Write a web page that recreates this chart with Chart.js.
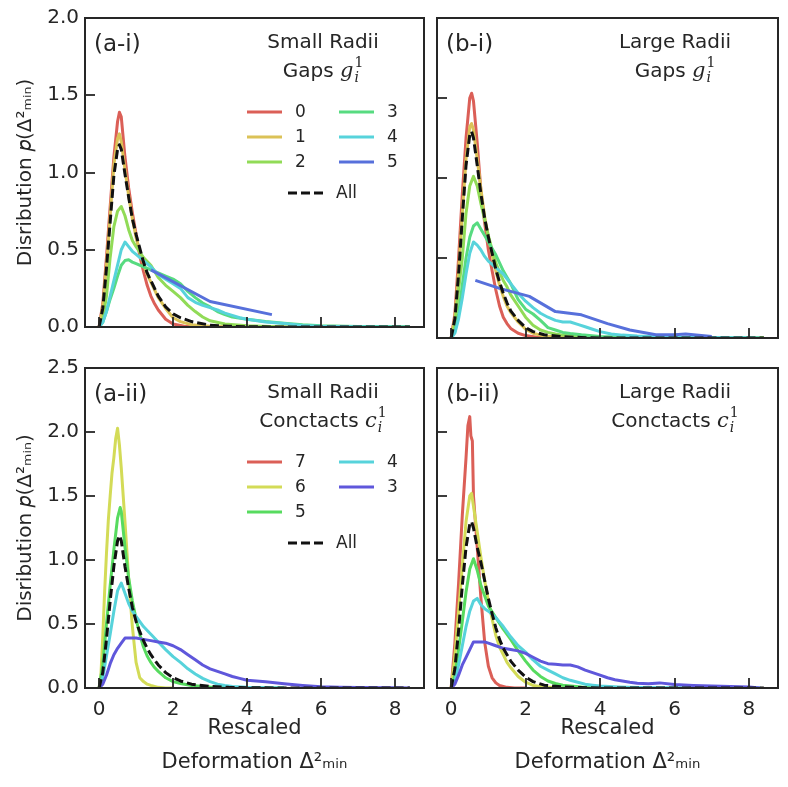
<!DOCTYPE html>
<html>
<head>
<meta charset="utf-8">
<script src="https://cdn.jsdelivr.net/npm/chart.js@4.4.1/dist/chart.umd.min.js"></script>
<style>
  html, body { margin: 0; padding: 0; background: #fff; }
  .wrap { position: relative; width: 788px; height: 787px; }
  canvas { position: absolute; }
</style>
</head>
<body>
<div class="wrap">
  <canvas id="ai" width="430" height="345" style="left:0;top:0"></canvas>
  <canvas id="bi" width="358" height="345" style="left:430px;top:0"></canvas>
  <canvas id="aii" width="430" height="442" style="left:0;top:345px"></canvas>
  <canvas id="bii" width="358" height="442" style="left:430px;top:345px"></canvas>
</div>
<script>
// ---- data (x = rescaled deformation, y = distribution) ----
const xTicks = [0, 2, 4, 6, 8];
const yTicksTop = [0, 0.5, 1, 1.5, 2];
const yTicksBottom = [0, 0.5, 1, 1.5, 2, 2.5];

const gapLabels = ['0', '1', '2', '3', '4', '5'];
const contactLabels = ['7', '6', '5', '4', '3'];

// small radii, gaps
const smallGaps0 = [[0,0],[0.1,0.15],[0.2,0.45],[0.3,0.78],[0.4,1.1],[0.5,1.33],[0.55,1.39],[0.6,1.36],[0.7,1.1],[0.8,0.9],[0.9,0.74],[1.0,0.6],[1.1,0.46],[1.2,0.36],[1.3,0.27],[1.4,0.2],[1.5,0.15],[1.6,0.11],[1.8,0.05],[2.0,0.02],[2.3,0.005],[2.6,0],[8.4,0]];
const smallGaps1 = [[0,0],[0.1,0.13],[0.2,0.4],[0.3,0.72],[0.4,1.05],[0.5,1.22],[0.55,1.25],[0.6,1.2],[0.7,1.02],[0.8,0.85],[0.9,0.7],[1.0,0.58],[1.1,0.49],[1.2,0.41],[1.3,0.34],[1.4,0.29],[1.5,0.24],[1.6,0.19],[1.8,0.12],[2.0,0.06],[2.2,0.035],[2.5,0.015],[3.0,0.005],[3.5,0],[8.4,0]];
const smallGaps2 = [[0,0],[0.1,0.05],[0.2,0.2],[0.3,0.45],[0.4,0.65],[0.5,0.75],[0.6,0.78],[0.7,0.72],[0.8,0.63],[0.9,0.56],[1.0,0.52],[1.2,0.45],[1.4,0.4],[1.6,0.32],[1.8,0.27],[2.0,0.23],[2.2,0.19],[2.4,0.14],[2.6,0.1],[2.8,0.065],[3.0,0.04],[3.4,0.02],[4.0,0.008],[5.0,0],[8.4,0]];
const smallGaps3 = [[0,0],[0.1,0.03],[0.2,0.1],[0.3,0.18],[0.4,0.25],[0.5,0.33],[0.6,0.4],[0.7,0.43],[0.8,0.435],[0.9,0.42],[1.0,0.41],[1.2,0.39],[1.4,0.37],[1.6,0.35],[1.8,0.33],[2.0,0.31],[2.2,0.28],[2.4,0.23],[2.6,0.19],[2.8,0.155],[3.0,0.13],[3.2,0.1],[3.4,0.08],[3.6,0.065],[4.0,0.05],[4.5,0.035],[5.0,0.025],[5.5,0.015],[6.0,0.008],[7.0,0.003],[8.0,0.001],[8.4,0]];
const smallGaps4 = [[0,0],[0.1,0.03],[0.2,0.1],[0.3,0.2],[0.4,0.3],[0.5,0.4],[0.6,0.5],[0.7,0.55],[0.8,0.52],[0.9,0.49],[1.0,0.47],[1.2,0.43],[1.4,0.39],[1.6,0.34],[1.8,0.31],[2.0,0.28],[2.2,0.25],[2.4,0.19],[2.6,0.16],[2.8,0.14],[3.0,0.125],[3.2,0.11],[3.4,0.09],[3.6,0.075],[3.8,0.06],[4.0,0.05],[4.5,0.033],[5.0,0.022],[5.5,0.01],[6.0,0.005],[7.0,0.002],[8.4,0]];
const smallGaps5 = [[1.4,0.37],[3.0,0.165],[4.67,0.08]];
const smallGapsAll = [[0,0],[0.1,0.12],[0.2,0.38],[0.3,0.68],[0.4,0.98],[0.5,1.15],[0.55,1.18],[0.6,1.15],[0.7,0.99],[0.8,0.84],[0.9,0.7],[1.0,0.6],[1.1,0.51],[1.2,0.42],[1.3,0.35],[1.4,0.3],[1.5,0.25],[1.6,0.2],[1.8,0.13],[2.0,0.085],[2.2,0.06],[2.5,0.035],[3.0,0.012],[3.5,0.005],[4.0,0.002],[5.0,0],[8.4,0]];

// large radii, gaps
const largeGaps0 = [[0,0],[0.1,0.15],[0.2,0.5],[0.3,0.9],[0.4,1.25],[0.5,1.5],[0.55,1.53],[0.6,1.48],[0.7,1.22],[0.8,0.92],[0.9,0.72],[1.0,0.55],[1.1,0.42],[1.2,0.3],[1.3,0.2],[1.4,0.13],[1.5,0.09],[1.6,0.06],[1.8,0.03],[2.0,0.015],[2.3,0.005],[2.6,0],[8.4,0]];
const largeGaps1 = [[0,0],[0.1,0.13],[0.2,0.42],[0.3,0.78],[0.4,1.12],[0.5,1.32],[0.55,1.34],[0.6,1.3],[0.7,1.12],[0.8,0.93],[0.9,0.76],[1.0,0.63],[1.1,0.52],[1.2,0.42],[1.3,0.33],[1.4,0.26],[1.5,0.2],[1.6,0.16],[1.8,0.1],[2.0,0.055],[2.2,0.03],[2.5,0.012],[3.0,0.004],[3.5,0],[8.4,0]];
const largeGaps2 = [[0,0],[0.1,0.08],[0.2,0.3],[0.3,0.5],[0.4,0.78],[0.5,0.95],[0.6,1.01],[0.7,0.95],[0.8,0.84],[0.9,0.74],[1.0,0.64],[1.1,0.55],[1.2,0.47],[1.3,0.41],[1.4,0.36],[1.5,0.32],[1.6,0.27],[1.8,0.2],[2.0,0.13],[2.2,0.08],[2.4,0.05],[2.6,0.035],[2.8,0.025],[3.0,0.018],[3.5,0.008],[4.0,0.003],[5.0,0],[8.4,0]];
const largeGaps3 = [[0,0],[0.1,0.04],[0.2,0.15],[0.3,0.33],[0.4,0.5],[0.5,0.63],[0.6,0.7],[0.7,0.72],[0.8,0.68],[0.9,0.64],[1.0,0.6],[1.1,0.56],[1.2,0.52],[1.3,0.47],[1.4,0.42],[1.5,0.38],[1.6,0.34],[1.8,0.24],[2.0,0.18],[2.2,0.15],[2.4,0.11],[2.6,0.065],[2.8,0.05],[3.0,0.035],[3.2,0.028],[3.5,0.02],[4.0,0.01],[5.0,0.004],[6.0,0],[8.4,0]];
const largeGaps4 = [[0,0],[0.1,0.03],[0.2,0.12],[0.3,0.25],[0.4,0.4],[0.5,0.53],[0.6,0.6],[0.7,0.58],[0.8,0.55],[0.9,0.51],[1.0,0.48],[1.2,0.44],[1.4,0.4],[1.6,0.34],[1.8,0.28],[2.0,0.23],[2.2,0.19],[2.4,0.155],[2.6,0.13],[2.8,0.11],[3.0,0.1],[3.2,0.1],[3.4,0.085],[3.6,0.07],[3.8,0.055],[4.0,0.04],[4.3,0.025],[4.6,0.018],[5.0,0.012],[5.5,0.008],[6.0,0.005],[7.0,0.003],[8.0,0.002],[8.3,0]];
const largeGaps5 = [[0.65,0.36],[1.3,0.31],[2.1,0.26],[2.8,0.165],[3.5,0.145],[4.2,0.09],[4.8,0.05],[5.5,0.02],[6.0,0.02],[6.3,0.025],[7.0,0.01]];
const largeGapsAll = [[0,0],[0.1,0.12],[0.2,0.4],[0.3,0.75],[0.4,1.08],[0.5,1.27],[0.55,1.29],[0.6,1.25],[0.7,1.08],[0.8,0.9],[0.9,0.75],[1.0,0.63],[1.1,0.53],[1.2,0.43],[1.3,0.35],[1.4,0.28],[1.5,0.22],[1.6,0.17],[1.8,0.11],[2.0,0.065],[2.2,0.04],[2.5,0.02],[3.0,0.008],[3.5,0.003],[4.0,0],[8.4,0]];

// small radii, contacts
const smallContacts7 = [];
const smallContacts6 = [[0,0],[0.05,0.1],[0.1,0.4],[0.15,0.75],[0.2,1.05],[0.25,1.31],[0.3,1.5],[0.35,1.68],[0.4,1.8],[0.45,1.95],[0.5,2.03],[0.55,1.9],[0.6,1.72],[0.7,1.3],[0.8,0.85],[0.9,0.48],[1.0,0.2],[1.1,0.08],[1.2,0.05],[1.3,0.03],[1.4,0.02],[1.6,0.005],[1.8,0],[2.0,0]];
const smallContacts5 = [[0,0],[0.1,0.18],[0.2,0.5],[0.3,0.8],[0.4,1.08],[0.5,1.33],[0.57,1.41],[0.6,1.38],[0.7,1.1],[0.8,0.86],[0.9,0.68],[1.0,0.54],[1.1,0.42],[1.2,0.32],[1.3,0.25],[1.4,0.2],[1.5,0.16],[1.6,0.13],[1.8,0.08],[2.0,0.05],[2.2,0.035],[2.5,0.02],[3.0,0.008],[3.5,0.003],[4.0,0],[5.0,0]];
const smallContacts4 = [[0,0],[0.1,0.08],[0.2,0.25],[0.3,0.42],[0.4,0.6],[0.5,0.76],[0.6,0.82],[0.7,0.74],[0.8,0.66],[0.9,0.6],[1.0,0.56],[1.2,0.48],[1.4,0.42],[1.6,0.36],[1.8,0.3],[2.0,0.245],[2.2,0.2],[2.4,0.15],[2.6,0.11],[2.8,0.075],[3.0,0.05],[3.2,0.03],[3.4,0.02],[3.6,0.012],[4.0,0.005],[5.0,0]];
const smallContacts3 = [[0,0],[0.1,0.03],[0.2,0.1],[0.3,0.19],[0.4,0.26],[0.5,0.31],[0.6,0.35],[0.7,0.39],[0.8,0.39],[1.0,0.39],[1.2,0.38],[1.4,0.37],[1.6,0.36],[1.8,0.35],[2.0,0.33],[2.2,0.3],[2.4,0.26],[2.6,0.22],[2.8,0.18],[3.0,0.15],[3.2,0.13],[3.4,0.11],[3.6,0.09],[3.8,0.075],[4.0,0.06],[4.5,0.048],[5.0,0.033],[5.5,0.02],[6.0,0.01],[6.5,0.006],[7.0,0.004],[8.0,0.001],[8.4,0]];
const smallContactsAll = [[0,0],[0.1,0.12],[0.2,0.38],[0.3,0.68],[0.4,0.95],[0.5,1.15],[0.55,1.19],[0.6,1.15],[0.7,0.95],[0.8,0.78],[0.9,0.63],[1.0,0.52],[1.1,0.44],[1.2,0.37],[1.3,0.31],[1.4,0.26],[1.5,0.22],[1.6,0.18],[1.8,0.12],[2.0,0.08],[2.2,0.055],[2.5,0.03],[3.0,0.012],[3.5,0.005],[4.0,0.002],[5.0,0],[8.4,0]];

// large radii, contacts
const largeContacts7 = [[0,0],[0.1,0.35],[0.2,0.82],[0.3,1.35],[0.4,1.8],[0.45,2.05],[0.5,2.12],[0.53,1.97],[0.57,1.93],[0.6,1.5],[0.7,1.1],[0.8,0.7],[0.9,0.36],[1.0,0.17],[1.1,0.08],[1.2,0.04],[1.3,0.02],[1.5,0.005],[1.7,0],[2.0,0]];
const largeContacts6 = [[0,0],[0.1,0.25],[0.2,0.6],[0.3,0.95],[0.4,1.3],[0.5,1.5],[0.55,1.52],[0.6,1.42],[0.7,1.22],[0.8,1.02],[0.9,0.84],[1.0,0.68],[1.1,0.54],[1.2,0.41],[1.3,0.32],[1.4,0.26],[1.5,0.2],[1.6,0.16],[1.8,0.09],[2.0,0.045],[2.2,0.02],[2.5,0.008],[3.0,0]];
const largeContacts5 = [[0,0],[0.1,0.1],[0.2,0.3],[0.3,0.52],[0.4,0.75],[0.5,0.93],[0.6,1.01],[0.7,0.92],[0.8,0.8],[0.9,0.72],[1.0,0.64],[1.2,0.55],[1.4,0.46],[1.6,0.38],[1.8,0.29],[2.0,0.21],[2.2,0.14],[2.4,0.09],[2.6,0.055],[2.8,0.035],[3.0,0.022],[3.5,0.008],[4.0,0.003],[5.0,0]];
const largeContacts4 = [[0,0],[0.1,0.05],[0.2,0.18],[0.3,0.33],[0.4,0.48],[0.5,0.6],[0.6,0.68],[0.7,0.7],[0.8,0.65],[0.9,0.62],[1.0,0.6],[1.2,0.55],[1.4,0.48],[1.6,0.4],[1.8,0.33],[2.0,0.28],[2.2,0.22],[2.4,0.17],[2.6,0.14],[2.8,0.11],[3.0,0.08],[3.2,0.06],[3.4,0.045],[3.6,0.03],[3.8,0.022],[4.0,0.015],[4.5,0.008],[5.0,0.004],[6.0,0.002],[7.0,0.001],[8.3,0]];
const largeContacts3 = [[0,0],[0.1,0.03],[0.2,0.1],[0.3,0.18],[0.4,0.24],[0.5,0.3],[0.6,0.36],[0.7,0.36],[0.8,0.36],[0.9,0.36],[1.0,0.35],[1.2,0.33],[1.4,0.31],[1.6,0.3],[1.8,0.29],[2.0,0.27],[2.2,0.24],[2.4,0.21],[2.6,0.19],[2.8,0.185],[3.0,0.18],[3.2,0.18],[3.4,0.165],[3.6,0.14],[3.8,0.12],[4.0,0.1],[4.2,0.08],[4.4,0.065],[4.6,0.055],[4.8,0.045],[5.0,0.038],[5.3,0.033],[5.6,0.04],[6.0,0.028],[6.5,0.02],[7.0,0.015],[7.5,0.012],[8.0,0.008],[8.3,0]];
const largeContactsAll = [[0,0],[0.1,0.15],[0.2,0.45],[0.3,0.8],[0.4,1.1],[0.5,1.28],[0.55,1.3],[0.6,1.25],[0.7,1.1],[0.8,0.98],[0.9,0.84],[1.0,0.7],[1.1,0.58],[1.2,0.47],[1.3,0.38],[1.4,0.31],[1.5,0.26],[1.6,0.21],[1.8,0.14],[2.0,0.085],[2.2,0.05],[2.5,0.022],[3.0,0.008],[3.5,0.003],[4.0,0],[8.4,0]];

// ---- styling ----
const INK = '#262626';
const gapColors = ['#db5f57', '#dbc257', '#91db57', '#57db80', '#57d3db', '#5770db'];
const contactColors = ['#db5f57', '#d3db57', '#57db5f', '#57d3db', '#5f57db'];
const FONT = '"DejaVu Sans", sans-serif';
Chart.defaults.font.family = FONT;
Chart.defaults.color = INK;

function drawSymLine(ctx, cx, cy, prefix, sym) {
  ctx.textAlign = 'left';
  ctx.textBaseline = 'alphabetic';
  const base = '20px ' + FONT;
  const it = 'italic 21px "DejaVu Serif", serif';
  const small = '14px "DejaVu Serif", serif';
  const smallIt = 'italic 14px "DejaVu Serif", serif';
  ctx.font = base; const w1 = ctx.measureText(prefix).width;
  ctx.font = it; const w2 = ctx.measureText(sym).width;
  ctx.font = small; const w3 = ctx.measureText('1').width;
  let x = cx - (w1 + w2 + w3 + 1) / 2;
  const yb = cy + 7;
  ctx.font = base; ctx.fillText(prefix, x, yb); x += w1;
  ctx.font = it; ctx.fillText(sym, x, yb); x += w2 + 1;
  ctx.font = small; ctx.fillText('1', x, yb - 10);
  ctx.font = smallIt; ctx.fillText('i', x, yb + 5);
}

// frame, inward ticks, panel text and legend
const decor = {
  id: 'decor',
  afterDraw(chart, args, o) {
    const {ctx, chartArea: a, scales} = chart;
    ctx.save();
    ctx.strokeStyle = INK;
    ctx.lineWidth = 1.8;
    scales.y.ticks.forEach(t => {
      const p = Math.round(scales.y.getPixelForValue(t.value));
      ctx.beginPath(); ctx.moveTo(a.left, p); ctx.lineTo(a.left + 10, p); ctx.stroke();
    });
    scales.x.ticks.forEach(t => {
      const p = Math.round(scales.x.getPixelForValue(t.value));
      ctx.beginPath(); ctx.moveTo(p, a.bottom); ctx.lineTo(p, a.bottom - 10); ctx.stroke();
    });
    ctx.lineWidth = 2;
    ctx.strokeRect(a.left, a.top, a.right - a.left, a.bottom - a.top);

    ctx.fillStyle = INK;
    ctx.textBaseline = 'middle';
    ctx.textAlign = 'left';
    ctx.font = '23px ' + FONT;
    ctx.fillText(o.tag, a.left + 9, a.top + 27);
    ctx.textAlign = 'center';
    ctx.font = '20px ' + FONT;
    ctx.fillText(o.line1, a.left + 238, a.top + 25);
    drawSymLine(ctx, a.left + 238, a.top + 52, o.line2, o.sym);

    if (o.legend) {
      const sets = chart.data.datasets.filter(d => d.label !== 'All');
      const all = chart.data.datasets.find(d => d.label === 'All');
      const half = Math.ceil(sets.length / 2);
      ctx.font = '17px ' + FONT;
      ctx.textAlign = 'left';
      ctx.textBaseline = 'middle';
      const entry = (d, x0, y) => {
        ctx.strokeStyle = d.borderColor;
        ctx.lineWidth = 3;
        ctx.setLineDash(d.borderDash || []);
        ctx.beginPath(); ctx.moveTo(x0, y); ctx.lineTo(x0 + 35, y); ctx.stroke();
        ctx.setLineDash([]);
        ctx.fillText(d.label, x0 + 48, y + 1);
      };
      sets.forEach((d, i) => {
        const col = i < half ? 0 : 1;
        const row = col ? i - half : i;
        entry(d, a.left + (col ? 254 : 162), a.top + 94 + row * 25);
      });
      if (all) entry(all, a.left + 203, a.top + 175);
    }
    ctx.restore();
  }
};

function series(label, pts, color, order) {
  return {
    label, order,
    data: pts.map(p => ({x: p[0], y: p[1]})),
    borderColor: color, borderWidth: 3,
    pointRadius: 0, tension: 0, fill: false,
    borderJoinStyle: 'round'
  };
}

function allSeries(pts) {
  const d = series('All', pts, '#111111', 0);
  d.borderDash = [9, 4];
  d.borderWidth = 3;
  return d;
}

function panel(id, opt) {
  const n = opt.sets.length;
  const datasets = opt.sets.map((pts, i) => series(opt.labels[i], pts, opt.colors[i], n - i));
  datasets.push(allSeries(opt.all));
  new Chart(document.getElementById(id), {
    type: 'line',
    data: {datasets},
    options: {
      responsive: false,
      animation: false,
      events: [],
      layout: {padding: {top: opt.padTop, right: opt.padRight, left: 0, bottom: 0}},
      plugins: {
        legend: {display: false},
        tooltip: {enabled: false},
        decor: {tag: opt.tag, line1: opt.line1, line2: opt.line2, sym: opt.sym, legend: opt.legend}
      },
      scales: {
        x: {
          type: 'linear', min: -0.38, max: 8.78,
          afterBuildTicks: s => { s.ticks = xTicks.map(v => ({value: v})); },
          afterFit: s => { s.height = opt.xHeight; },
          grid: {display: false, drawTicks: false},
          border: {display: false},
          ticks: {display: opt.xLabels, padding: 10, color: INK, font: {size: 20}, callback: v => String(v)},
          title: {
            display: opt.xLabels,
            text: ['Rescaled', 'Deformation \u0394\u00b2\u2098\u1d62\u2099'],
            color: INK,
            font: {size: 21, lineHeight: 1.6},
            padding: {top: 0, bottom: 8}
          }
        },
        y: {
          type: 'linear', min: 0, max: opt.yTicks[opt.yTicks.length - 1],
          afterBuildTicks: s => { s.ticks = opt.yTicks.map(v => ({value: v})); },
          afterFit: s => { s.width = opt.yWidth; },
          grid: {display: false, drawTicks: false},
          border: {display: false},
          ticks: {display: opt.yLabels, padding: 6, color: INK, font: {size: 20}, callback: v => Number(v).toFixed(1)},
          title: {
            display: opt.yLabels,
            text: 'Disribution \ud835\udc5d(\u0394\u00b2\u2098\u1d62\u2099)',
            color: INK,
            font: {size: 20},
            padding: {top: 14, bottom: 0}
          }
        }
      }
    },
    plugins: [decor]
  });
}

panel('ai', {
  tag: '(a-i)', line1: 'Small Radii', line2: 'Gaps ', sym: 'g', legend: true,
  labels: gapLabels, colors: gapColors,
  sets: [smallGaps0, smallGaps1, smallGaps2, smallGaps3, smallGaps4, smallGaps5], all: smallGapsAll,
  yTicks: yTicksTop, padTop: 18, padRight: 6, yWidth: 85, xHeight: 7, xLabels: false, yLabels: true
});
panel('bi', {
  tag: '(b-i)', line1: 'Large Radii', line2: 'Gaps ', sym: 'g', legend: false,
  labels: gapLabels, colors: gapColors,
  sets: [largeGaps0, largeGaps1, largeGaps2, largeGaps3, largeGaps4, largeGaps5], all: largeGapsAll,
  yTicks: yTicksTop, padTop: 18, padRight: 10, yWidth: 7, xHeight: 7, xLabels: false, yLabels: false
});
panel('aii', {
  tag: '(a-ii)', line1: 'Small Radii', line2: 'Conctacts ', sym: 'c', legend: true,
  labels: contactLabels, colors: contactColors,
  sets: [smallContacts7, smallContacts6, smallContacts5, smallContacts4, smallContacts3], all: smallContactsAll,
  yTicks: yTicksBottom, padTop: 23, padRight: 6, yWidth: 85, xHeight: 99, xLabels: true, yLabels: true
});
panel('bii', {
  tag: '(b-ii)', line1: 'Large Radii', line2: 'Conctacts ', sym: 'c', legend: false,
  labels: contactLabels, colors: contactColors,
  sets: [largeContacts7, largeContacts6, largeContacts5, largeContacts4, largeContacts3], all: largeContactsAll,
  yTicks: yTicksBottom, padTop: 23, padRight: 10, yWidth: 7, xHeight: 99, xLabels: true, yLabels: false
});
</script>
</body>
</html>
